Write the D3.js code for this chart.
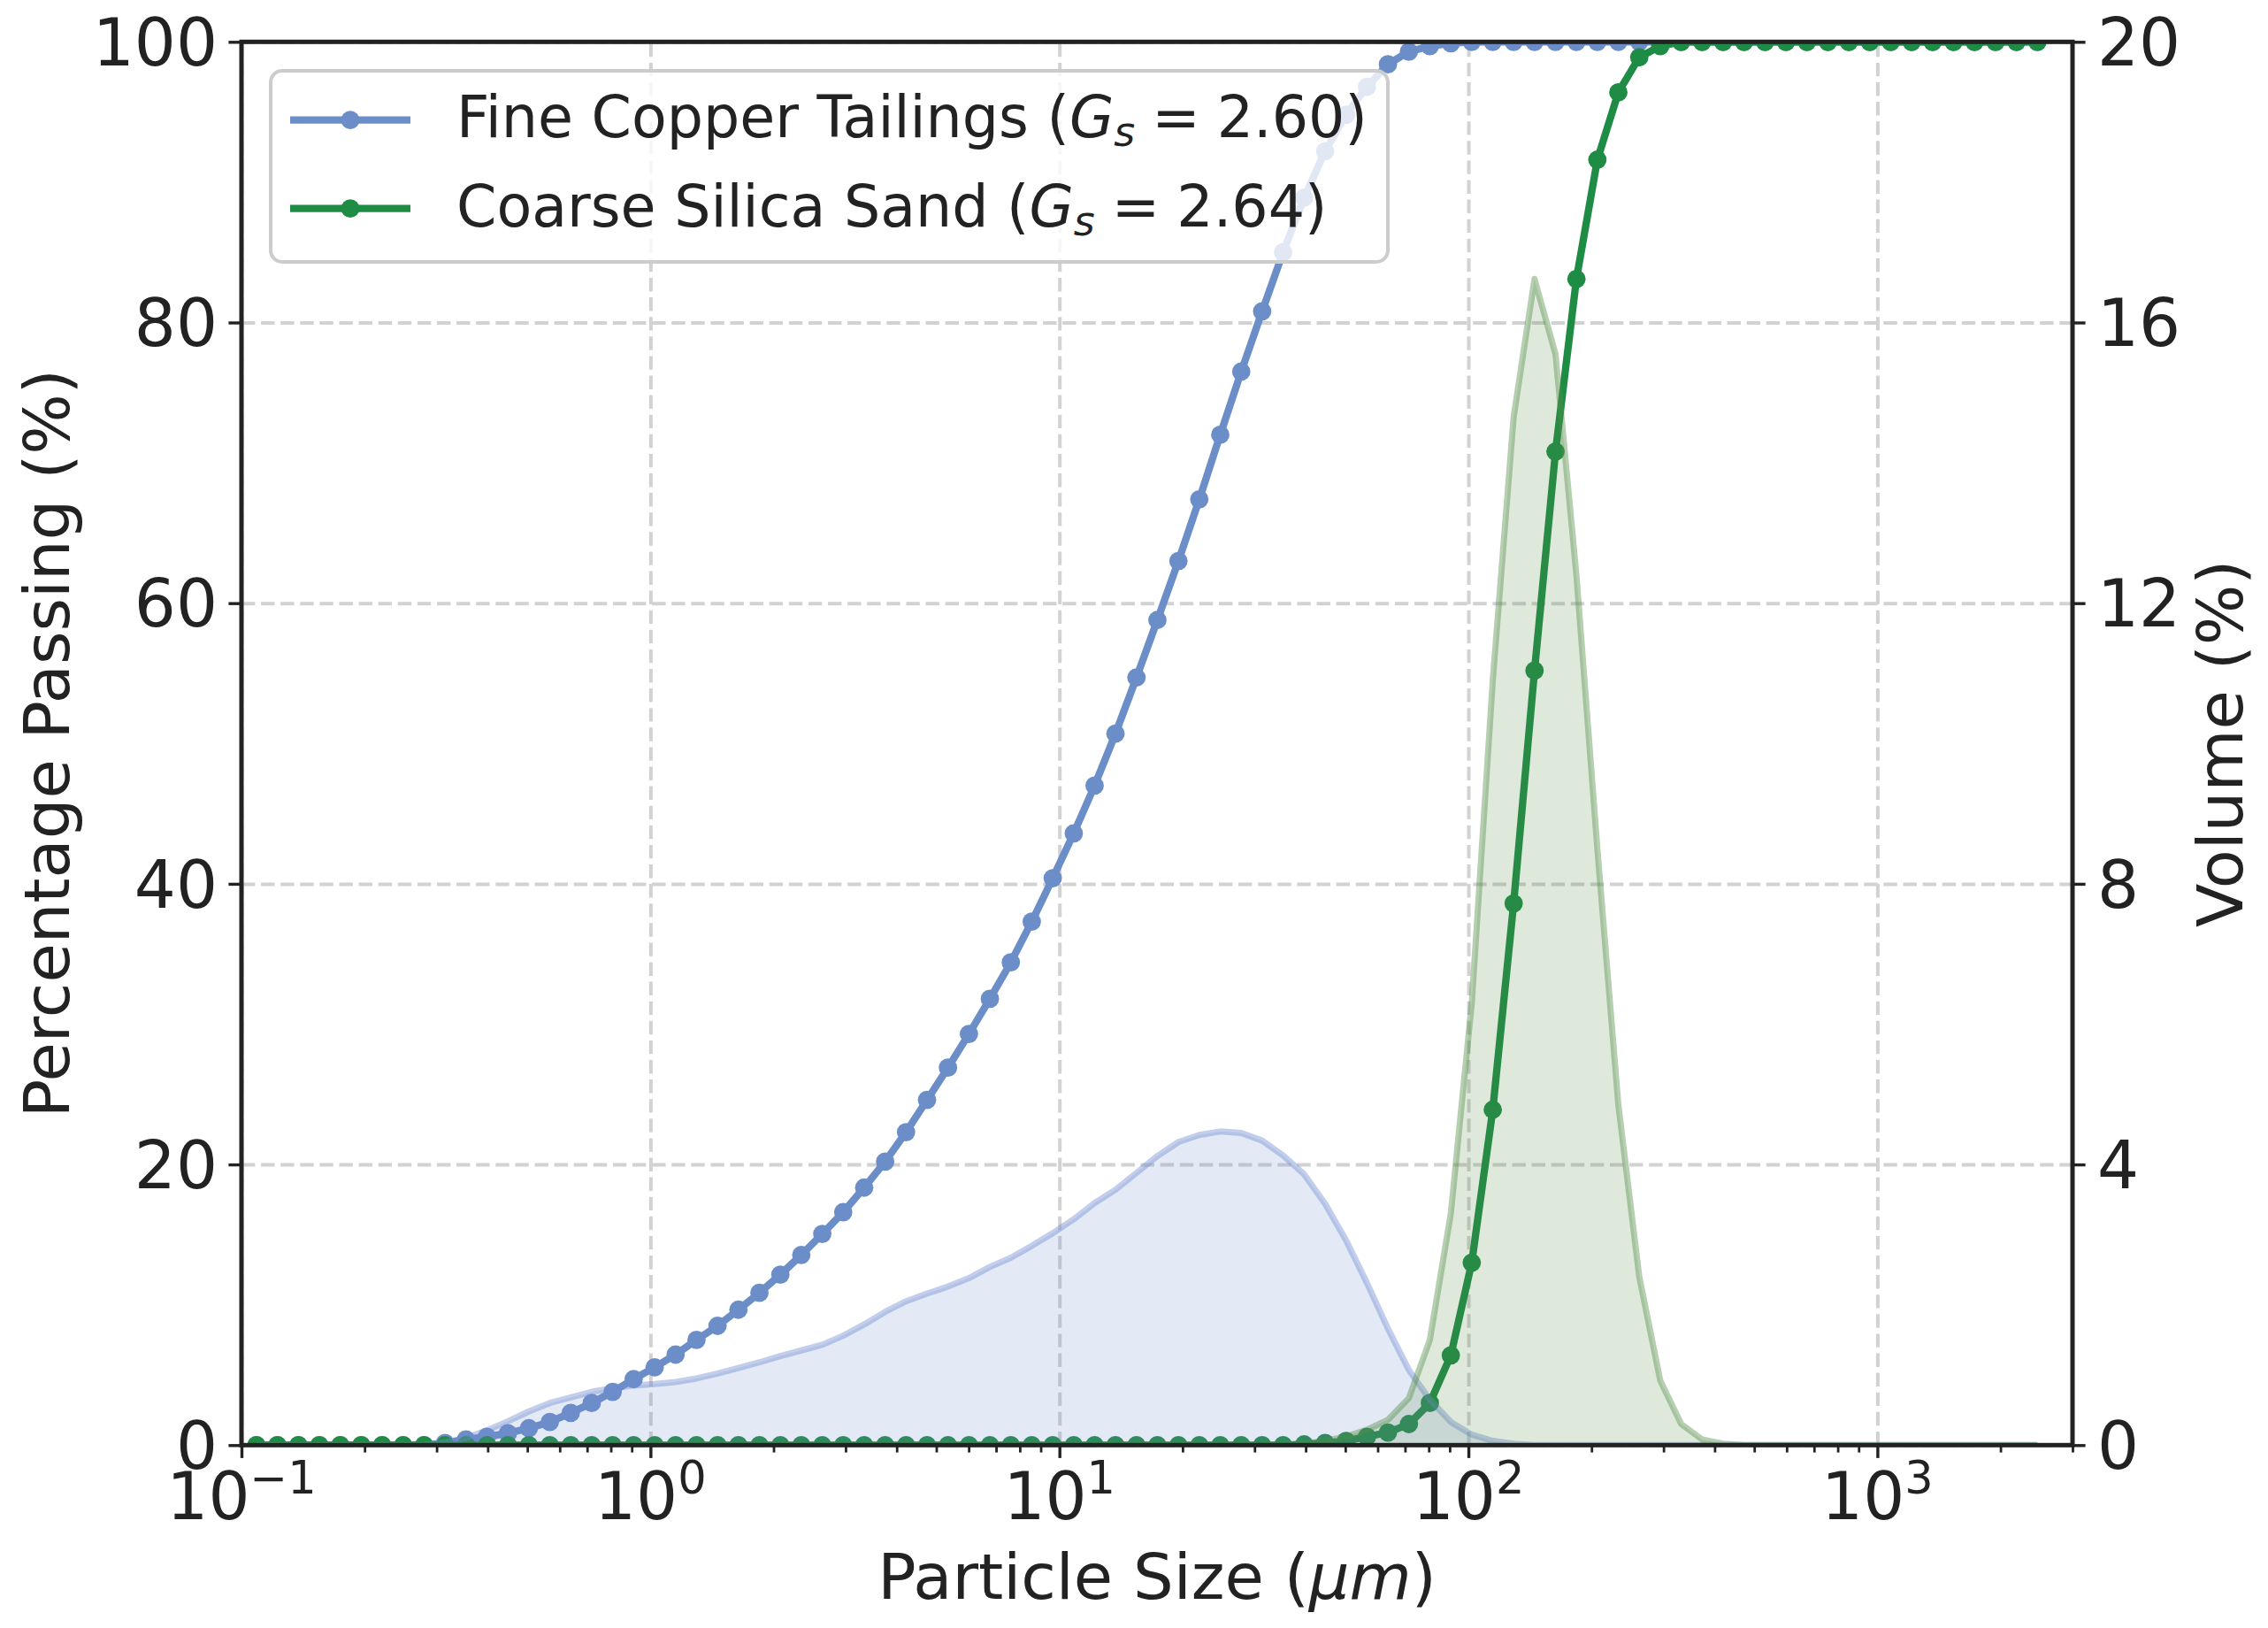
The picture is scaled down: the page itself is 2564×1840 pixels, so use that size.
<!DOCTYPE html>
<html>
<head>
<meta charset="utf-8">
<script src="https://cdn.jsdelivr.net/npm/d3@7"></script>
<style>
  html, body { margin: 0; padding: 0; background: #ffffff; }
  svg { display: block; }
  text { font-family: "DejaVu Sans", sans-serif; fill: #222222; }
</style>
</head>
<body>
<div id="chart"></div>
<script>
// ---------------- data ----------------
const sizes = [
  0.1088, 0.1224, 0.1378, 0.1550, 0.1744, 0.1963, 0.2208, 0.2485, 0.2796, 0.3146,
  0.3540, 0.3983, 0.4482, 0.5043, 0.5675, 0.6385, 0.7185, 0.8084, 0.9096, 1.024,
  1.152, 1.296, 1.459, 1.641, 1.847, 2.078, 2.338, 2.631, 2.960, 3.331,
  3.748, 4.217, 4.745, 5.339, 6.008, 6.760, 7.606, 8.558, 9.630, 10.84,
  12.19, 13.71, 15.43, 17.36, 19.54, 21.98, 24.73, 27.83, 31.31, 35.23,
  39.66, 44.63, 50.21, 56.50, 63.57, 71.53, 80.49, 90.57, 101.9, 114.7,
  129.0, 145.1, 163.3, 183.7, 206.7, 232.6, 261.7, 294.5, 331.4, 372.9,
  419.6, 472.1, 531.2, 597.7, 672.6, 756.8, 851.5, 958.1, 1078, 1213,
  1365, 1536, 1728, 1945, 2188, 2462
];
const tailingsPassing = [
  0, 0, 0, 0, 0, 0, 0, 0, 0, 0.15,
  0.4, 0.6, 0.85, 1.2, 1.65, 2.3, 3.0, 3.8, 4.7, 5.55,
  6.45, 7.5, 8.5, 9.65, 10.85, 12.15, 13.55, 15.05, 16.6, 18.35,
  20.2, 22.3, 24.6, 26.9, 29.3, 31.8, 34.4, 37.3, 40.4, 43.6,
  47.0, 50.7, 54.7, 58.8, 63.0, 67.4, 72.0, 76.5, 80.8, 85.0,
  88.9, 92.2, 94.8, 96.8, 98.4, 99.3, 99.7, 99.9, 100, 100,
  100, 100, 100, 100, 100, 100, 100, 100, 100, 100,
  100, 100, 100, 100, 100, 100, 100, 100, 100, 100,
  100, 100, 100, 100, 100, 100
];
const sandPassing = [
  0, 0, 0, 0, 0, 0, 0, 0, 0, 0,
  0, 0, 0, 0, 0, 0, 0, 0, 0, 0,
  0, 0, 0, 0, 0, 0, 0, 0, 0, 0,
  0, 0, 0, 0, 0, 0, 0, 0, 0, 0,
  0, 0, 0, 0, 0, 0, 0, 0, 0, 0,
  0.05, 0.15, 0.3, 0.6, 0.9, 1.5, 3.0, 6.4, 13.0, 23.9,
  38.6, 55.2, 70.8, 83.1, 91.6, 96.4, 98.9, 99.7, 100, 100,
  100, 100, 100, 100, 100, 100, 100, 100, 100, 100,
  100, 100, 100, 100, 100, 100
];
const tailingsVolume = [
  0, 0, 0, 0, 0, 0, 0, 0, 0, 0.04,
  0.10, 0.21, 0.34, 0.48, 0.60, 0.68, 0.76, 0.81, 0.85, 0.87,
  0.90, 0.95, 1.02, 1.10, 1.18, 1.27, 1.35, 1.43, 1.56, 1.72,
  1.90, 2.05, 2.16, 2.26, 2.38, 2.54, 2.67, 2.84, 3.02, 3.22,
  3.45, 3.64, 3.88, 4.12, 4.32, 4.42, 4.47, 4.45, 4.34, 4.13,
  3.86, 3.44, 2.92, 2.31, 1.66, 1.07, 0.65, 0.33, 0.15, 0.06,
  0.02, 0, 0, 0, 0, 0, 0, 0, 0, 0,
  0, 0, 0, 0, 0, 0, 0, 0, 0, 0,
  0, 0, 0, 0, 0, 0
];
const sandVolume = [
  0, 0, 0, 0, 0, 0, 0, 0, 0, 0,
  0, 0, 0, 0, 0, 0, 0, 0, 0, 0,
  0, 0, 0, 0, 0, 0, 0, 0, 0, 0,
  0, 0, 0, 0, 0, 0, 0, 0, 0, 0,
  0, 0, 0, 0, 0, 0, 0, 0, 0, 0,
  0.02, 0.06, 0.12, 0.22, 0.36, 0.67, 1.50, 3.3, 6.3, 10.9,
  14.65, 16.62, 15.55, 12.4, 8.5, 4.85, 2.4, 0.92, 0.3, 0.08,
  0.02, 0, 0, 0, 0, 0, 0, 0, 0, 0,
  0, 0, 0, 0, 0, 0
];
const seriesNames = ["Fine Copper Tailings", "Coarse Silica Sand"];
const gsValues = ["2.60", "2.64"];
const leftTicks = [0, 20, 40, 60, 80, 100];
const rightTicks = [0, 4, 8, 12, 16, 20];
const xMajorTicks = [0.1, 1, 10, 100, 1000];
const xTickExponents = ["\u22121", "0", "1", "2", "3"];
const xMinorTicks = [0.2, 0.3, 0.4, 0.5, 0.6, 0.7, 0.8, 0.9,
  2, 3, 4, 5, 6, 7, 8, 9, 20, 30, 40, 50, 60, 70, 80, 90,
  200, 300, 400, 500, 600, 700, 800, 900, 2000, 3000];
const xLabel = "Particle Size (";
const yLabel = "Percentage Passing (%)";
const y2Label = "Volume (%)";

// ---------------- layout ----------------
const W = 2564, H = 1840;
const L = 273, R = 2343, T = 47.3, B = 1633.3;
const blue = "#6c8ec8", green = "#1f8c45";
const blueVol = "#6e8bcf", greenVol = "#508c46";
const ink = "#222222";

const svg = d3.select("#chart").append("svg")
  .attr("width", W).attr("height", H).attr("viewBox", `0 0 ${W} ${H}`);
svg.append("rect").attr("width", W).attr("height", H).attr("fill", "#ffffff");

const x = d3.scaleLog().domain([0.1, 3000]).range([L, R]);
const yL = d3.scaleLinear().domain([0, 100]).range([B, T]);
const yR = d3.scaleLinear().domain([0, 20]).range([B, T]);

svg.append("defs").append("clipPath").attr("id", "plotclip")
  .append("rect").attr("x", L).attr("y", T).attr("width", R - L).attr("height", B - T);

// ---------------- grid ----------------
const grid = svg.append("g");
grid.append("g").attr("transform", `translate(0,${B})`)
  .call(d3.axisBottom(x).tickValues(xMajorTicks).tickSize(-(B - T)).tickFormat(""));
grid.append("g").attr("transform", `translate(${L},0)`)
  .call(d3.axisLeft(yL).tickValues(leftTicks).tickSize(-(R - L)).tickFormat(""));
grid.selectAll(".domain").remove();
grid.selectAll(".tick line")
  .attr("stroke", "#d2d2d2").attr("stroke-width", 4).attr("stroke-dasharray", "15.4,6.7");

// ---------------- cumulative curves (primary axis) ----------------
const plot = svg.append("g").attr("clip-path", "url(#plotclip)");
const cumLine = d3.line().x((d, i) => x(sizes[i])).y(d => yL(d));

function drawCum(values, color) {
  plot.append("path").datum(values)
    .attr("d", cumLine).attr("fill", "none")
    .attr("stroke", color).attr("stroke-width", 8.3)
    .attr("stroke-linejoin", "round").attr("stroke-linecap", "butt");
  plot.append("g").selectAll("circle").data(values).join("circle")
    .attr("cx", (d, i) => x(sizes[i])).attr("cy", d => yL(d))
    .attr("r", 10.4).attr("fill", color);
}
drawCum(tailingsPassing, blue);
drawCum(sandPassing, green);

// ---------------- legend ----------------
const leg = svg.append("g");
leg.append("rect").attr("x", 306).attr("y", 80).attr("width", 1263).attr("height", 216)
  .attr("rx", 13).attr("ry", 13)
  .attr("fill", "#ffffff").attr("fill-opacity", 0.8)
  .attr("stroke", "#cccccc").attr("stroke-width", 4);
const legRows = [
  { name: seriesNames[0], gs: gsValues[0], color: blue, y: 135.7, base: 155 },
  { name: seriesNames[1], gs: gsValues[1], color: green, y: 235.7, base: 256 }
];
legRows.forEach(r => {
  leg.append("line").attr("x1", 328).attr("x2", 464).attr("y1", r.y).attr("y2", r.y)
    .attr("stroke", r.color).attr("stroke-width", 8.3);
  leg.append("circle").attr("cx", 396).attr("cy", r.y).attr("r", 10.4).attr("fill", r.color);
  const t = leg.append("text").attr("x", 516).attr("y", r.base).attr("font-size", 65);
  t.append("tspan").text(r.name + " (");
  t.append("tspan").attr("font-style", "italic").text("G");
  t.append("tspan").attr("font-style", "italic").attr("font-size", 46).attr("dy", 10).text("s");
  t.append("tspan").attr("dy", -10).attr("dx", 19).text("=");
  t.append("tspan").attr("dx", 19).text(r.gs + ")");
});

// ---------------- volume distributions (secondary axis, drawn on top) ----------------
const volArea = d3.area().x((d, i) => x(sizes[i])).y0(yR(0)).y1(d => yR(d));
const volLine = d3.line().x((d, i) => x(sizes[i])).y(d => yR(d));
function drawVol(values, color) {
  plot.append("path").datum(values).attr("d", volArea)
    .attr("fill", color).attr("fill-opacity", 0.19).attr("stroke", "none");
  plot.append("path").datum(values).attr("d", volLine)
    .attr("fill", "none").attr("stroke", color).attr("stroke-opacity", 0.42)
    .attr("stroke-width", 7).attr("stroke-linejoin", "round");
}
drawVol(tailingsVolume, blueVol);
drawVol(sandVolume, greenVol);

// ---------------- axes ----------------
const axes = svg.append("g");
const ax = axes.append("g").attr("transform", `translate(0,${B})`)
  .call(d3.axisBottom(x).tickValues(xMajorTicks).tickSize(14.6).tickFormat(""));
const axm = axes.append("g").attr("transform", `translate(0,${B})`)
  .call(d3.axisBottom(x).tickValues(xMinorTicks).tickSize(8.3).tickFormat(""));
axm.select(".domain").remove();
axm.selectAll(".tick line").attr("stroke", ink).attr("stroke-width", 2.8);
const ayl = axes.append("g").attr("transform", `translate(${L},0)`)
  .call(d3.axisLeft(yL).tickValues(leftTicks).tickSize(14.6).tickFormat(""));
const ayr = axes.append("g").attr("transform", `translate(${R},0)`)
  .call(d3.axisRight(yR).tickValues(rightTicks).tickSize(14.6).tickFormat(""));
[ax, ayl, ayr].forEach(g => {
  g.select(".domain").remove();
  g.selectAll(".tick line").attr("stroke", ink).attr("stroke-width", 3.4);
});
axes.append("rect").attr("x", L).attr("y", T).attr("width", R - L).attr("height", B - T)
  .attr("fill", "none").attr("stroke", ink).attr("stroke-width", 5);

xMajorTicks.forEach((v, i) => {
  const t = axes.append("text").attr("x", x(v)).attr("y", B + 83.7)
    .attr("text-anchor", "middle").attr("font-size", 74);
  t.append("tspan").text("10");
  t.append("tspan").attr("font-size", 51).attr("dy", -29).text(xTickExponents[i]);
});
leftTicks.forEach(v => {
  axes.append("text").attr("x", 246).attr("y", yL(v)).attr("dy", "0.36em")
    .attr("text-anchor", "end").attr("font-size", 74).text(v);
});
rightTicks.forEach(v => {
  axes.append("text").attr("x", 2371).attr("y", yR(v)).attr("dy", "0.36em")
    .attr("text-anchor", "start").attr("font-size", 74).text(v);
});

const xl = axes.append("text").attr("x", (L + R) / 2).attr("y", 1807)
  .attr("text-anchor", "middle").attr("font-size", 72);
xl.append("tspan").text(xLabel);
xl.append("tspan").attr("font-style", "italic").text("\u03bcm");
xl.append("tspan").text(")");

axes.append("text").attr("transform", `translate(78,${(T + B) / 2}) rotate(-90)`)
  .attr("text-anchor", "middle").attr("font-size", 72).text(yLabel);
axes.append("text").attr("transform", `translate(2535,${(T + B) / 2}) rotate(-90)`)
  .attr("text-anchor", "middle").attr("font-size", 72).text(y2Label);
</script>
</body>
</html>
